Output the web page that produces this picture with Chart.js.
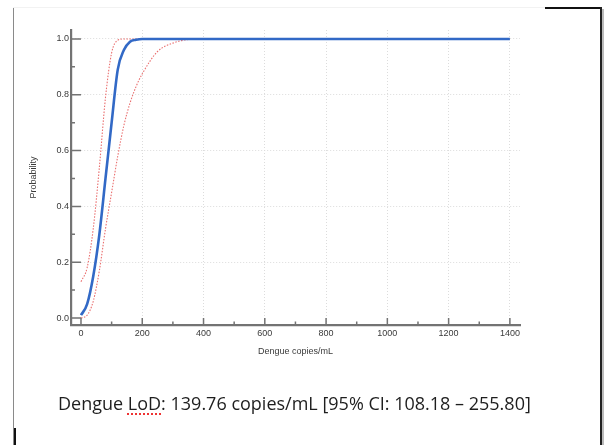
<!DOCTYPE html>
<html>
<head>
<meta charset="utf-8">
<script src="https://cdn.jsdelivr.net/npm/chart.js@4"></script>
<style>
  html, body { margin: 0; padding: 0; background: #fff; }
  #page { position: relative; width: 606px; height: 445px; overflow: hidden; }
  #wrap { position: absolute; left: 0; top: 0; width: 606px; height: 445px; }
  .ln { position: absolute; }
  #caption {
    position: absolute; left: 58px; top: 391px;
    font-family: "Open Sans", "Liberation Sans", sans-serif;
    font-size: 18px; color: #1e1e1e; white-space: nowrap;
  }
  #caption .sp { text-decoration: underline dotted #e33; text-decoration-thickness: 1.5px; text-underline-offset: 3px; }
</style>
</head>
<body>
<div id="page">
  <div class="ln" style="left:13px;top:7px;width:1px;height:438px;background:#8a8a8a"></div>
  <div class="ln" style="left:13px;top:7px;width:532px;height:1px;background:#f2f2f2"></div>
  <div class="ln" style="left:545px;top:7px;width:57px;height:2px;background:#111"></div>
  <div class="ln" style="left:600px;top:7px;width:2px;height:438px;background:#222"></div>
  <div class="ln" style="left:602px;top:9px;width:2px;height:436px;background:#bbb"></div>
  <div class="ln" style="left:14px;top:428px;width:2px;height:17px;background:#111"></div>
  <div id="wrap"><canvas id="lodChart" width="606" height="445"></canvas></div>
  <div id="caption">Dengue <span class="sp">LoD</span>: 139.76 copies/mL [95% CI: 108.18 – 255.80]</div>
</div>
<script>
// copies/mL sampled along the curves
const xVals = [0, 20, 40, 60, 80, 100, 120, 140, 160, 180, 200, 250, 300, 350, 400, 1400];
// fitted probability
const fitVals = [0.01, 0.05, 0.15, 0.30, 0.50, 0.70, 0.89, 0.96, 0.99, 0.997, 1.0, 1.0, 1.0, 1.0, 1.0, 1.0];
// 95% CI bounds
const upperVals = [0.13, 0.18, 0.32, 0.54, 0.79, 0.95, 0.995, 1.0, 1.0, 1.0, 1.0, 1.0, 1.0, 1.0, 1.0, 1.0];
const lowerVals = [0.0, 0.01, 0.06, 0.17, 0.32, 0.45, 0.58, 0.69, 0.77, 0.83, 0.875, 0.955, 0.985, 0.998, 1.0, 1.0];

const xTicks = [0, 200, 400, 600, 800, 1000, 1200, 1400];
const xMinor = [100, 300, 500, 700, 900, 1100, 1300];
const yTicks = [0, 0.2, 0.4, 0.6, 0.8, 1.0];
const yMinor = [0.1, 0.3, 0.5, 0.7, 0.9];

const axisGrey = "#737373";

function toPoints(ys) {
  return xVals.map((x, i) => ({ x: x, y: ys[i] }));
}

// tick marks point inward, like the original plot
const innerTicks = {
  id: "innerTicks",
  afterDraw(chart) {
    const { ctx } = chart;
    const xs = chart.scales.x, ys = chart.scales.y;
    const bottom = chart.chartArea.bottom, left = chart.chartArea.left;
    ctx.save();
    ctx.strokeStyle = axisGrey;
    ctx.lineWidth = 1.5;
    ctx.beginPath();
    xTicks.forEach((v) => { const p = xs.getPixelForValue(v); ctx.moveTo(p, bottom); ctx.lineTo(p, ys.getPixelForValue(0)); });
    xMinor.forEach((v) => { const p = xs.getPixelForValue(v); ctx.moveTo(p, bottom); ctx.lineTo(p, bottom - 3.5); });
    yTicks.forEach((v) => { const p = ys.getPixelForValue(v); ctx.moveTo(left, p); ctx.lineTo(xs.getPixelForValue(0), p); });
    yMinor.forEach((v) => { const p = ys.getPixelForValue(v); ctx.moveTo(left, p); ctx.lineTo(left + 4, p); });
    ctx.stroke();
    ctx.restore();
  },
};

const tickFont = { family: "Liberation Sans, Arial, sans-serif", size: 9 };

new Chart(document.getElementById("lodChart"), {
  type: "line",
  data: {
    datasets: [
      {
        label: "Fit",
        data: toPoints(fitVals),
        borderColor: "#3269c6",
        borderWidth: 2.6,
        pointRadius: 0,
        cubicInterpolationMode: "monotone",
      },
      {
        label: "Upper",
        data: toPoints(upperVals),
        borderColor: "#ea7070",
        borderWidth: 1.1,
        borderDash: [1.5, 1.5],
        pointRadius: 0,
        cubicInterpolationMode: "monotone",
      },
      {
        label: "Lower",
        data: toPoints(lowerVals),
        borderColor: "#ea7070",
        borderWidth: 1.1,
        borderDash: [1.5, 1.5],
        pointRadius: 0,
        cubicInterpolationMode: "monotone",
      },
    ],
  },
  options: {
    responsive: false,
    animation: false,
    layout: { padding: { left: 28, right: 86, top: 30, bottom: 88 } },
    plugins: { legend: { display: false }, tooltip: { enabled: false } },
    scales: {
      x: {
        type: "linear",
        min: -32.6,
        max: 1433,
        afterBuildTicks: (scale) => { scale.ticks = xTicks.map((v) => ({ value: v })); },
        afterFit: (scale) => { scale.height = 32; },
        ticks: { font: tickFont, color: "#3a3a3a", padding: 3, maxRotation: 0, callback: (v) => String(v) },
        grid: {
          drawTicks: false,
          color: (ctx) => (ctx.tick && ctx.tick.value === 0 ? "rgba(0,0,0,0)" : "#dcdcdc"),
          lineWidth: 1,
        },
        border: { color: axisGrey, width: 2.2, dash: [1, 2] },
        title: { display: true, text: "Dengue copies/mL", font: tickFont, color: "#3a3a3a", padding: 0 },
      },
      y: {
        min: -0.025,
        max: 1.032,
        afterBuildTicks: (scale) => { scale.ticks = yTicks.map((v) => ({ value: v })); },
        afterFit: (scale) => { scale.width = 43; },
        ticks: { font: tickFont, color: "#3a3a3a", padding: 2, callback: (v) => v.toFixed(1) },
        grid: {
          drawTicks: false,
          color: (ctx) => (ctx.tick && ctx.tick.value === 0 ? "rgba(0,0,0,0)" : "#dcdcdc"),
          lineWidth: 1,
        },
        border: { color: axisGrey, width: 2.2, dash: [1, 2] },
        title: { display: true, text: "Probability", font: tickFont, color: "#3a3a3a", padding: 0 },
      },
    },
  },
  plugins: [innerTicks],
});
</script>
</body>
</html>
